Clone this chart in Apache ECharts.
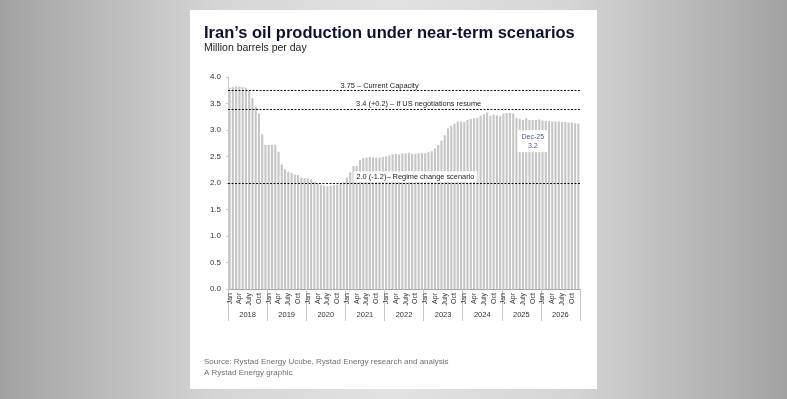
<!DOCTYPE html>
<html>
<head>
<meta charset="utf-8">
<title>Iran's oil production under near-term scenarios</title>
<script src="https://cdn.jsdelivr.net/npm/echarts@6.0.0/dist/echarts.min.js"></script>
<style>
  html, body {
    margin: 0;
    padding: 0;
    width: 787px;
    height: 399px;
    overflow: hidden;
    background: linear-gradient(to right, #a2a2a2 0%, #d6d6d6 28%, #e2e2e2 50%, #d6d6d6 72%, #a2a2a2 100%);
  }
  .card {
    position: absolute;
    left: 190px;
    top: 10px;
    width: 407px;
    height: 379px;
    background: #ffffff;
  }
</style>
</head>
<body>
<div class="card" id="chart"></div>
<script>
// years and month names shown on the axis
var years = ['2018', '2019', '2020', '2021', '2022', '2023', '2024', '2025', '2026'];
var monthNames = ['Jan', 'Feb', 'Mar', 'Apr', 'May', 'Jun', 'July', 'Aug', 'Sep', 'Oct', 'Nov', 'Dec'];

// production, million barrels per day (one array per year)
var prod2018 = [3.80, 3.81, 3.82, 3.82, 3.81, 3.80, 3.75, 3.60, 3.44, 3.31, 2.92, 2.72];
var prod2019 = [2.72, 2.72, 2.72, 2.59, 2.35, 2.26, 2.21, 2.19, 2.16, 2.15, 2.10, 2.09];
var prod2020 = [2.09, 2.07, 2.02, 2.00, 1.96, 1.95, 1.94, 1.95, 1.96, 1.97, 2.00, 2.02];
var prod2021 = [2.10, 2.20, 2.32, 2.32, 2.43, 2.47, 2.48, 2.49, 2.48, 2.48, 2.48, 2.49];
var prod2022 = [2.50, 2.52, 2.54, 2.55, 2.54, 2.56, 2.56, 2.57, 2.55, 2.55, 2.56, 2.57];
var prod2023 = [2.56, 2.58, 2.60, 2.65, 2.72, 2.80, 2.90, 3.03, 3.08, 3.12, 3.16, 3.16];
var prod2024 = [3.15, 3.19, 3.21, 3.22, 3.23, 3.27, 3.30, 3.33, 3.27, 3.29, 3.28, 3.26];
var prod2025 = [3.31, 3.32, 3.32, 3.31, 3.23, 3.21, 3.19, 3.22, 3.19, 3.19, 3.19, 3.20];
var prod2026 = [3.18, 3.17, 3.17, 3.16, 3.16, 3.16, 3.15, 3.15, 3.14, 3.14, 3.13, 3.12];

// scenario levels
var scenarioValues = [3.75, 3.4, 2.0];
var scenarioLabels = ['3.75 – Current Capacity', '3.4 (+0.2) – If US negotiations resume', '2.0 (-1.2)– Regime change scenario'];

// y axis ticks
var yTicks = [0, 0.5, 1.0, 1.5, 2.0, 2.5, 3.0, 3.5, 4.0];

// callout
var calloutMonth = 'Dec-25';
var calloutValue = 3.2;

var production = [].concat(prod2018, prod2019, prod2020, prod2021, prod2022, prod2023, prod2024, prod2025, prod2026);
var months = [];
years.forEach(function (y) {
  monthNames.forEach(function (m) {
    months.push(m);
  });
});

var FONT = '"Liberation Sans", Arial, sans-serif';
var chart = echarts.init(document.getElementById('chart'));

// label positions for the scenario lines: [month index, value]
var scenarioLabelPos = [[46, 3.84], [58, 3.50], [57, 2.12]];

chart.setOption({
  animation: false,
  textStyle: { fontFamily: FONT },
  title: [{
    text: 'Iran’s oil production under near-term scenarios',
    subtext: 'Million barrels per day',
    left: 9,
    top: 10,
    itemGap: 1,
    textStyle: {
      fontFamily: FONT,
      fontSize: 16.5,
      fontWeight: 'bold',
      color: '#0d1030'
    },
    subtextStyle: {
      fontFamily: FONT,
      fontSize: 10.5,
      color: '#222222'
    }
  }, {
    text: 'Source: Rystad Energy Ucube, Rystad Energy research and analysis\nA Rystad Energy graphic',
    left: 9,
    top: 341,
    textStyle: {
      fontFamily: FONT,
      fontSize: 8,
      fontWeight: 'normal',
      lineHeight: 11,
      color: '#707070'
    }
  }],
  grid: {
    left: 38,
    right: 17,
    top: 67,
    bottom: 100
  },
  xAxis: [{
    type: 'category',
    data: months,
    position: 'bottom',
    axisLine: { show: true, lineStyle: { color: '#aaaaaa', width: 1 } },
    axisTick: { show: false },
    axisLabel: {
      interval: 2,
      rotate: 90,
      margin: 4,
      fontSize: 7,
      color: '#333333',
      fontFamily: FONT
    }
  }, {
    // year row with separators
    type: 'category',
    data: years,
    position: 'bottom',
    axisLine: { show: false },
    axisTick: {
      show: true,
      length: 32,
      lineStyle: { color: '#c8c8c8' }
    },
    axisLabel: {
      margin: 22,
      fontSize: 7.5,
      color: '#333333',
      fontFamily: FONT
    },
    splitLine: { show: false }
  }],
  yAxis: {
    type: 'value',
    min: 0,
    max: 4,
    interval: 0.5,
    axisLine: { show: true, lineStyle: { color: '#cccccc' } },
    axisTick: { show: true, length: 2, lineStyle: { color: '#cccccc' } },
    axisLabel: {
      margin: 7,
      fontSize: 8,
      color: '#333333',
      fontFamily: FONT,
      formatter: function (v) { return v.toFixed(1); }
    },
    splitLine: { show: false }
  },
  series: [{
    type: 'bar',
    data: production,
    barCategoryGap: '35%',
    itemStyle: { color: '#c6c6c6' },
    silent: true,
    markLine: {
      silent: true,
      symbol: 'none',
      label: { show: false },
      lineStyle: { color: '#111111', type: [2, 1.5], width: 1 },
      data: scenarioValues.map(function (v) { return { yAxis: v }; })
    },
    markPoint: {
      silent: true,
      symbol: 'rect',
      symbolSize: 1,
      itemStyle: { color: 'rgba(0,0,0,0)' },
      data: scenarioLabels.map(function (t, i) {
        return {
          coord: scenarioLabelPos[i],
          label: {
            show: true,
            position: 'inside',
            formatter: t,
            fontSize: 7.4,
            color: '#222222',
            fontFamily: FONT,
            backgroundColor: i === 2 ? '#ffffff' : 'transparent',
            padding: [2, 3]
          }
        };
      }).concat([{
        coord: [93, 2.79],
        label: {
          show: true,
          position: 'inside',
          formatter: calloutMonth + '\n' + calloutValue.toFixed(1),
          fontSize: 7,
          lineHeight: 9,
          align: 'center',
          color: '#4a5a92',
          fontFamily: FONT,
          backgroundColor: '#ffffff',
          padding: [2, 4]
        }
      }])
    }
  }]
});
</script>
</body>
</html>
